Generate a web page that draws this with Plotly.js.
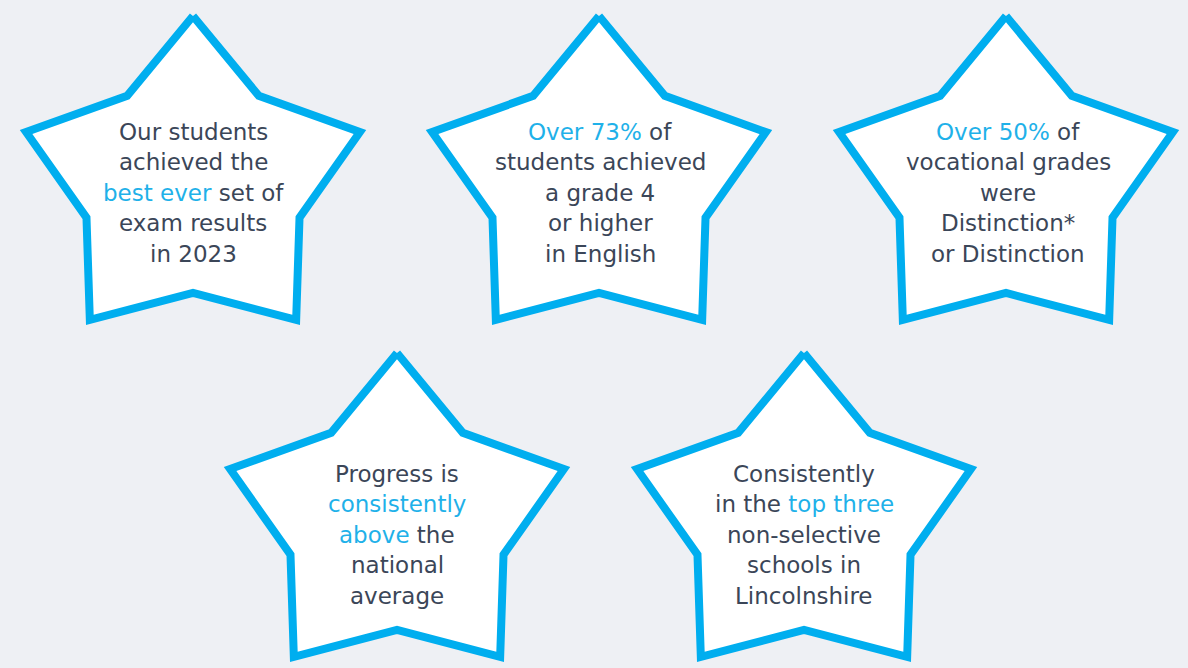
<!DOCTYPE html>
<html>
<head>
<meta charset="utf-8">
<script src="https://cdn.plot.ly/plotly-3.0.1.min.js"></script>
<style>
html,body{margin:0;padding:0;background:#eef0f4;}
#chart{width:1188px;height:668px;}
</style>
</head>
<body>
<div id="chart"></div>
<script>
// ---- data ----
var star1Lines = ['Our students', 'achieved the', '<span style="color:#1fb1e9">best ever</span> set of', 'exam results', 'in 2023'];
var star2Lines = ['<span style="color:#1fb1e9">Over 73%</span> of', 'students achieved', 'a grade 4', 'or higher', 'in English'];
var star3Lines = ['<span style="color:#1fb1e9">Over 50%</span> of', 'vocational grades', 'were', 'Distinction*', 'or Distinction'];
var star4Lines = ['Progress is', '<span style="color:#1fb1e9">consistently</span>', '<span style="color:#1fb1e9">above</span> the', 'national', 'average'];
var star5Lines = ['Consistently', 'in the <span style="color:#1fb1e9">top three</span>', 'non-selective', 'schools in', 'Lincolnshire'];

var statements = [star1Lines, star2Lines, star3Lines, star4Lines, star5Lines];

// ---- layout helpers ----
var centers = [[193,184],[599,184],[1006,184],[397,521],[804,521]];
var textTop = [132, 132, 132, 474, 474];
var textX = [193, 600, 1008, 397, 804];
var lineGap = 30.4;
var RX = 175.5, RY = 168, rX = 112, rY = 109;

function starPath(cx, cy) {
  var xs = [], ys = [];
  for (var k = 0; k <= 10; k++) {
    var a = (k % 10) * Math.PI / 5;
    var outer = (k % 2 === 0);
    var rx = outer ? RX : rX, ry = outer ? RY : rY;
    xs.push(cx + rx * Math.sin(a));
    ys.push(cy - ry * Math.cos(a));
  }
  return {x: xs, y: ys};
}

var traces = [];
var annotations = [];
statements.forEach(function(lines, i) {
  var p = starPath(centers[i][0], centers[i][1]);
  traces.push({
    type: 'scatter', mode: 'lines', x: p.x, y: p.y,
    fill: 'toself', fillcolor: '#ffffff',
    line: {color: '#00aeef', width: 8},
    hoverinfo: 'skip', showlegend: false
  });
  lines.forEach(function(t, j) {
    annotations.push({
      x: textX[i], y: textTop[i] + j * lineGap, xref: 'x', yref: 'y',
      text: t, showarrow: false, xanchor: 'center', yanchor: 'middle',
      font: {family: 'DejaVu Sans', size: 23, color: '#3b4658'}
    });
  });
});

var layout = {
  width: 1188, height: 668,
  margin: {l: 0, r: 0, t: 0, b: 0},
  paper_bgcolor: '#eef0f4', plot_bgcolor: '#eef0f4',
  xaxis: {range: [0, 1188], visible: false, fixedrange: true},
  yaxis: {range: [668, 0], visible: false, fixedrange: true},
  annotations: annotations,
  showlegend: false
};

Plotly.newPlot('chart', traces, layout, {displayModeBar: false, staticPlot: true});
</script>
</body>
</html>
